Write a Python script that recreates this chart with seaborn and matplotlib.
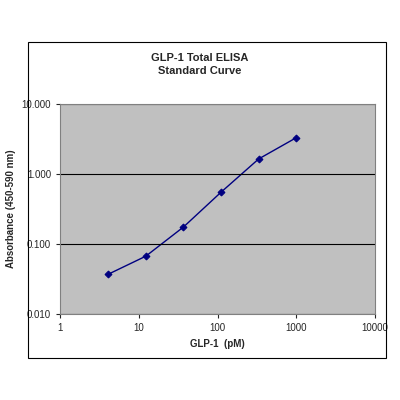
import matplotlib
matplotlib.use("Agg")
import matplotlib.pyplot as plt
import seaborn as sns
import pandas as pd
from matplotlib.patches import Rectangle
from matplotlib.ticker import FixedLocator, NullLocator

conc = [4.1, 12.3, 37, 111, 333, 1000]
absorb = [0.037, 0.067, 0.175, 0.55, 1.64, 3.3]
xticks = [1, 10, 100, 1000, 10000]
xlabels = ["1", "10", "100", "1000", "10000"]
yticks = [0.01, 0.1, 1, 10]
ylabels = ["0.010", "0.100", "1.000", "10.000"]

sns.set_style("white")
plt.rcParams['font.family'] = ['Liberation Sans', 'DejaVu Sans']

fig = plt.figure(figsize=(4, 4), dpi=100)
fig.patches.append(Rectangle((0.07, 0.105), 0.895, 0.79, transform=fig.transFigure,
                             fill=False, edgecolor="black", linewidth=0.8))
ax = fig.add_axes([0.15, 0.215, 0.7875, 0.525])
ax.set_facecolor("#c0c0c0")
df = pd.DataFrame({"x": conc, "y": absorb})
sns.lineplot(data=df, x="x", y="y", ax=ax, color="#000080", marker="D",
             markersize=3.5, markeredgecolor="#000080", linewidth=1)
ax.set_xscale("log")
ax.set_yscale("log")
ax.set_xlim(1, 10000)
ax.set_ylim(0.01, 10)
ax.xaxis.set_major_locator(FixedLocator(xticks))
ax.set_xticklabels(xlabels)
ax.xaxis.set_minor_locator(NullLocator())
ax.yaxis.set_major_locator(FixedLocator(yticks))
ax.set_yticklabels(ylabels)
ax.yaxis.set_minor_locator(NullLocator())
ax.tick_params(labelsize=7, length=3, direction="out", left=True, bottom=True)
for y in yticks:
    ax.axhline(y, color="black", linewidth=0.8)
for s in ax.spines.values():
    s.set_color("#808080")
ax.set_xlabel("GLP-1  (pM)", fontsize=7, fontweight="bold")
ax.set_ylabel("Absorbance (450-590 nm)", fontsize=7, fontweight="bold")
fig.text(0.5, 0.838, "GLP-1 Total ELISA\nStandard Curve", ha="center", va="center",
         fontsize=8, fontweight="bold", linespacing=1.4)
fig.savefig("out.png", dpi=100)
